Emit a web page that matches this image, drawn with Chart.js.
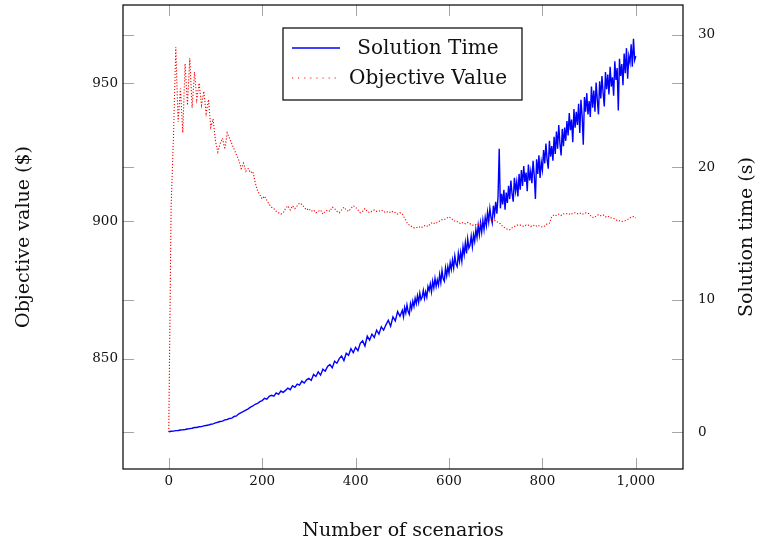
<!DOCTYPE html>
<html>
<head>
<meta charset="utf-8">
<script src="https://cdn.jsdelivr.net/npm/chart.js@4.4.1/dist/chart.umd.min.js"></script>
<style>
  html, body { margin: 0; padding: 0; background: #fff; }
  #wrap { width: 758px; height: 545px; }
</style>
</head>
<body>
<div id="wrap"><canvas id="chart" width="758" height="545"></canvas></div>
<script>
// scenario counts: objective read every 5, solution time every 5 up to 495
// and every 2.5 beyond that where the line gets noisy
const objScenarios = [];
for (let n = 0; n <= 1000; n += 5) objScenarios.push(n);
const timeScenarios = [];
for (let n = 0; n < 500; n += 5) timeScenarios.push(n);
for (let n = 500; n <= 1000; n += 2.5) timeScenarios.push(n);

// solution time (s)
const solutionTime = [
  // 0 - 495, step 5
  0.02, 0.06, 0.07, 0.11, 0.12, 0.16, 0.17, 0.19, 0.23, 0.26,
  0.29, 0.34, 0.35, 0.4, 0.41, 0.47, 0.5, 0.53, 0.59, 0.62,
  0.7, 0.74, 0.8, 0.83, 0.92, 0.95, 1.03, 1.05, 1.18, 1.22,
  1.38, 1.47, 1.56, 1.66, 1.75, 1.88, 1.97, 2.1, 2.16, 2.3,
  2.38, 2.55, 2.48, 2.7, 2.78, 2.72, 2.95, 2.85, 3.1, 3.0,
  3.15, 3.32, 3.2, 3.5, 3.38, 3.62, 3.55, 3.85, 3.7, 3.95,
  4.05, 3.9, 4.35, 4.2, 4.55, 4.3, 4.75, 4.6, 4.95, 5.1,
  4.85, 5.35, 5.2, 5.55, 5.75, 5.4, 5.95, 5.8, 6.3, 6.0,
  6.4, 6.15, 6.7, 6.9, 6.5, 7.25, 6.95, 7.4, 7.15, 7.7,
  7.4, 7.95, 7.7, 8.1, 8.45, 8.0, 8.7, 8.4, 9.1, 8.75,
  // 500 - 1000, step 2.5
  9.2, 8.7, 9.4, 9.0, 9.6, 9.1, 8.9, 9.7, 9.3, 9.9,
  9.5, 10.1, 9.7, 10.3, 9.8, 10.5, 10.0, 10.2, 10.7, 10.1,
  10.6, 10.2, 11.0, 10.7, 11.2, 10.6, 11.4, 10.9, 11.6, 11.0,
  11.5, 11.1, 11.9, 11.3, 12.2, 11.6, 11.4, 12.4, 11.8, 12.5,
  12.0, 12.8, 12.3, 13.0, 12.4, 13.3, 12.7, 12.5, 13.5, 12.9,
  13.6, 12.9, 14.0, 13.4, 14.3, 13.5, 14.6, 13.9, 14.1, 14.8,
  14.0, 14.9, 14.4, 15.3, 14.7, 15.6, 14.9, 15.8, 15.1, 16.0,
  15.3, 16.2, 15.6, 16.6, 15.9, 16.9, 16.2, 15.8, 17.1, 16.4,
  17.4, 16.5, 17.8, 21.4, 16.9, 18.0, 17.2, 18.3, 16.8, 18.1,
  17.3, 18.6, 17.6, 19.0, 18.0, 17.4, 19.2, 18.2, 18.9, 17.8,
  19.5, 18.3, 19.8, 18.6, 20.1, 18.9, 19.6, 18.2, 20.2, 19.0,
  19.7, 18.8, 20.5, 19.4, 17.6, 20.6, 19.5, 20.9, 19.2, 20.4,
  19.8, 21.3, 20.3, 21.8, 20.6, 19.9, 22.0, 20.8, 21.6, 20.5,
  22.3, 21.0, 22.7, 21.4, 23.2, 21.8, 20.9, 22.9, 21.6, 23.0,
  22.0, 23.5, 22.4, 24.1, 22.8, 23.6, 21.9, 24.4, 23.0, 24.2,
  23.2, 24.8, 22.6, 25.1, 23.9, 21.7, 25.3, 24.2, 25.6, 24.0,
  25.0, 23.8, 26.1, 24.5, 25.8, 24.2, 26.4, 25.1, 24.0, 26.5,
  25.2, 26.9, 25.6, 24.6, 27.2, 25.9, 27.0, 25.5, 27.6, 26.1,
  26.8, 25.4, 28.0, 26.6, 27.5, 24.3, 28.2, 26.9, 27.8, 26.2,
  28.6, 27.1, 29.0, 26.7, 28.4, 27.9, 29.3, 27.6, 29.7, 28.1,
  28.4
];

// objective value ($)
const objectiveValue = [
  823.5, 905, 930, 963, 936, 948, 932, 957, 942, 959,
  941, 954, 944, 950, 942, 947, 939, 944, 934, 937,
  929, 925, 928, 930, 926, 932, 930, 928, 926, 924,
  922, 919, 921, 918, 919, 917.5, 918, 914, 911, 909.5,
  908, 909, 907.5, 906, 905, 904.5, 903.5, 903, 902.5, 903,
  904.5, 905.5, 904, 905.5, 904.5, 905.5, 906.5, 906, 905, 904,
  904.5, 903.5, 904, 903, 903.5, 904, 902.5, 903.5, 904, 903.5,
  905, 904.5, 903.5, 903, 904, 905, 904, 903.5, 904.5, 905.5,
  905, 904, 903, 903.5, 904.5, 903.5, 903, 903.5, 904, 903.5,
  903.5, 904, 903.5, 903, 903.5, 903, 903.5, 903, 902.5, 903,
  902.5, 901, 899.5, 898.5, 898, 897.5, 897.5, 898, 897.5, 898,
  898.5, 898, 899, 899.5, 899, 899.5, 900, 900.5, 900.5, 901,
  901.5, 901, 900, 900, 899.5, 899, 899.5, 899, 899.5, 899,
  898.5, 898.5, 899, 898.5, 899.5, 900, 899.5, 900.5, 900, 900.5,
  900, 899.5, 899, 898, 897.5, 897, 896.8, 897.5, 898, 898.5,
  898.5, 898.5, 898, 898.5, 898.5, 898, 898.5, 898, 898.5, 898,
  897.8, 898.2, 899, 899.2, 901.5, 902.3, 902, 902.5, 902, 902.6,
  902.5, 902.8, 902.3, 902.8, 903, 902.6, 902.9, 902.4, 902.8, 903,
  902.6, 901.5, 901.2, 901.8, 902.3, 901.9, 902.2, 901.5, 901.8, 901.2,
  901, 900.8, 900.2, 900.1, 899.8, 900, 900.3, 900.8, 901.4, 901.6,
  901.2
];

const xTicks = [0, 200, 400, 600, 800, 1000];
const objTicks = [850, 900, 950];
const timeTicks = [0, 10, 20, 30];

const serif = "'DejaVu Serif', 'Liberation Serif', serif";
const TICK_FONT = { family: serif, size: 13.5 };
const TITLE_FONT = { family: serif, size: 19 };
const LEGEND_SIZE = 20;
const INK = "#111";

// drop the label overflow padding so the plot box sits where we want it
function fixBox(s, w, h) {
  if (w) s.width = w;
  if (h) s.height = h;
  s.paddingTop = 0;
  s.paddingBottom = 0;
  s.paddingLeft = 0;
  s.paddingRight = 0;
}

// frame, inward tick marks on all four sides, right title, legend
const decorations = {
  id: "decorations",
  afterDatasetsDraw(chart) {
    const { ctx, chartArea: a, scales } = chart;
    const len = 11;
    ctx.save();

    ctx.strokeStyle = "#a6a6a6";
    ctx.lineWidth = 1;
    ctx.beginPath();
    xTicks.forEach((v) => {
      const px = Math.round(scales.x.getPixelForValue(v)) + 0.5;
      ctx.moveTo(px, a.bottom);
      ctx.lineTo(px, a.bottom - len);
      ctx.moveTo(px, a.top);
      ctx.lineTo(px, a.top + len);
    });
    const yPixels = objTicks.map((v) => scales.yObj.getPixelForValue(v))
      .concat(timeTicks.map((v) => scales.yTime.getPixelForValue(v)));
    yPixels.forEach((p) => {
      const py = Math.round(p) + 0.5;
      ctx.moveTo(a.left, py);
      ctx.lineTo(a.left + len, py);
      ctx.moveTo(a.right, py);
      ctx.lineTo(a.right - len, py);
    });
    ctx.stroke();

    ctx.strokeStyle = "#000";
    ctx.lineWidth = 1.2;
    ctx.strokeRect(a.left, a.top, a.right - a.left, a.bottom - a.top);

    // right axis title, reading bottom to top like the left one
    ctx.fillStyle = INK;
    ctx.font = TITLE_FONT.size + "px " + serif;
    ctx.textAlign = "center";
    ctx.textBaseline = "middle";
    ctx.save();
    ctx.translate(747, (a.top + a.bottom) / 2);
    ctx.rotate(-Math.PI / 2);
    ctx.fillText("Solution time (s)", 0, 0);
    ctx.restore();

    // legend box
    const bx = 283, by = 28, bw = 239, bh = 72;
    ctx.fillStyle = "#fff";
    ctx.fillRect(bx, by, bw, bh);
    ctx.strokeStyle = "#000";
    ctx.lineWidth = 1.2;
    ctx.strokeRect(bx, by, bw, bh);
    ctx.font = LEGEND_SIZE + "px " + serif;
    chart.data.datasets.forEach((ds, i) => {
      const cy = by + 20 + i * 30;
      ctx.beginPath();
      ctx.strokeStyle = ds.borderColor;
      ctx.lineWidth = ds.borderWidth;
      ctx.setLineDash(i === 1 ? [1.1, 5] : []);
      ctx.moveTo(292, cy);
      ctx.lineTo(340, cy);
      ctx.stroke();
      ctx.setLineDash([]);
      ctx.fillStyle = INK;
      ctx.fillText(ds.label, 428, cy + 1);
    });

    ctx.restore();
  }
};

const ctx = document.getElementById("chart").getContext("2d");

new Chart(ctx, {
  type: "line",
  data: {
    datasets: [
      {
        label: "Solution Time",
        data: timeScenarios.map((n, i) => ({ x: n, y: solutionTime[i] })),
        yAxisID: "yTime",
        borderColor: "#0000ff",
        borderWidth: 1.4,
        pointRadius: 0,
        tension: 0,
        fill: false,
        order: 1
      },
      {
        label: "Objective Value",
        data: objScenarios.map((n, i) => ({ x: n, y: objectiveValue[i] })),
        yAxisID: "yObj",
        borderColor: "#ff0000",
        borderWidth: 1.1,
        borderDash: [1.2, 1.8],
        pointRadius: 0,
        tension: 0,
        fill: false,
        order: 0
      }
    ]
  },
  options: {
    responsive: false,
    animation: false,
    events: [],
    layout: { padding: { top: 5, left: 0, right: 0, bottom: 0 } },
    plugins: {
      legend: { display: false },
      tooltip: { enabled: false }
    },
    scales: {
      x: {
        type: "linear",
        min: -98,
        max: 1101,
        grid: { display: false, drawTicks: false, tickLength: 0 },
        border: { display: false },
        afterBuildTicks: (s) => { s.ticks = xTicks.map((v) => ({ value: v })); },
        afterFit: (s) => fixBox(s, 0, 76),
        ticks: {
          font: TICK_FONT,
          color: INK,
          padding: 4,
          maxRotation: 0,
          callback: (v) => v.toLocaleString("en-US")
        },
        title: {
          display: true,
          text: "Number of scenarios",
          font: TITLE_FONT,
          color: INK,
          padding: { top: 0, bottom: 3 }
        }
      },
      yObj: {
        type: "linear",
        position: "left",
        min: 810.1,
        max: 978.3,
        grid: { display: false, drawTicks: false, tickLength: 0 },
        border: { display: false },
        afterBuildTicks: (s) => { s.ticks = objTicks.map((v) => ({ value: v })); },
        afterFit: (s) => fixBox(s, 123, 0),
        ticks: { font: TICK_FONT, color: INK, padding: 5 },
        title: {
          display: true,
          text: "Objective value ($)",
          font: TITLE_FONT,
          color: INK,
          padding: { top: 13, bottom: 0 }
        }
      },
      yTime: {
        type: "linear",
        position: "right",
        min: -2.79,
        max: 32.26,
        grid: { display: false, drawTicks: false, tickLength: 0 },
        border: { display: false },
        afterBuildTicks: (s) => { s.ticks = timeTicks.map((v) => ({ value: v })); },
        afterFit: (s) => fixBox(s, 75, 0),
        ticks: { font: TICK_FONT, color: INK, padding: 15 },
        title: { display: false }
      }
    }
  },
  plugins: [decorations]
});
</script>
</body>
</html>
